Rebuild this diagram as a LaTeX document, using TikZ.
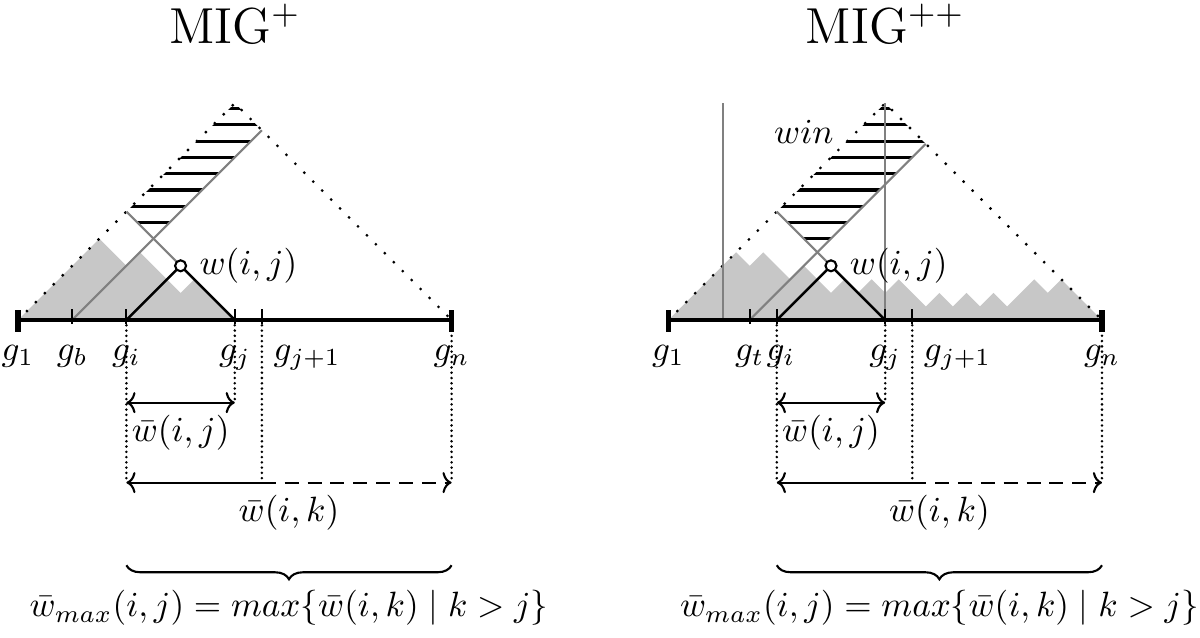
\documentclass[tikz,border=0pt]{standalone}
\usepackage{amsmath,amssymb}
\usetikzlibrary{positioning,decorations.pathreplacing,arrows.meta}
\tikzset{
  axis/.style={line width=1.2pt},
  endtick/.style={line width=1.5pt},
  tick/.style={line width=0.6pt},
  mount/.style={fill=black!22},
  grayline/.style={black!50,line width=0.6pt},
  hatchline/.style={line width=0.9pt},
  dotedge/.style={line width=0.9pt,line cap=round,dash pattern=on 0pt off 3.6pt},
  vdots/.style={line width=0.8pt,line cap=round,dash pattern=on 0pt off 1.5pt},
  gene/.style={anchor=base,inner sep=0pt},
  wnode/.style={circle,draw,fill=white,line width=0.6pt,inner sep=0pt,minimum size=0.11cm},
  span/.style={line width=0.6pt,>={To[length=2.6pt,width=6pt]}},
  spanbrace/.style={decorate,decoration={brace,mirror,amplitude=0.14cm},line width=0.6pt},
  title/.style={anchor=base,font=\Large}
}
\begin{document}
\begin{tikzpicture}[x=0.271cm,y=0.271cm]
\useasboundingbox (-0.18cm,-3.17cm) rectangle (11.82cm,3.2cm);

% MIG+
\coordinate (L1) at (0,0);
\coordinate (Lb) at (2,0);
\coordinate (Li) at (4,0);
\coordinate (Lj) at (8,0);
\coordinate (Lk) at (9,0);
\coordinate (Ln) at (16,0);
\coordinate (Ltop) at (8,8);
\coordinate (Lw) at (6,2);
\coordinate (Lwend) at (4,4);
\coordinate (Lbend) at (9,7);

\fill[mount] (L1) -- (3,3) -- (4,2) -- (4.5,2.5) -- (6,1) -- (6.5,1.5) -- (Lj) -- cycle;
\begin{scope}
  \clip (Lwend) -- (5,3) -- (Lbend) -- (Ltop) -- cycle;
  \foreach \k in {5,...,13}
    \draw[hatchline] (3,{0.6*\k}) -- (10,{0.6*\k});
\end{scope}
\draw[dotedge] (L1) -- (Ltop) -- (Ln);
\draw[grayline] (Lb) -- (Lbend);
\draw[grayline] (Lw) -- (Lwend);
\draw[line width=0.7pt] (Li) -- (Lw) -- (Lj);
\draw[axis] (L1) -- (Ln);
\foreach \t in {Lb,Li,Lj,Lk}
  \draw[tick] (\t) ++(0,-0.15) -- ++(0,0.55);
\foreach \t in {L1,Ln}
  \draw[endtick] (\t) ++(0,-0.44) -- ++(0,0.81);
\node[wnode] (Lwc) at (Lw) {};
\node[right=0pt of Lwc] (Lwlab) {$w(i,j)$};

\node[title] (Ltitle) at (8,10.22) {MIG$^{+}$};
\node[gene] (Lg1) at ([yshift=-0.4cm]L1) {$g_1$};
\node[gene] (Lgb) at ([yshift=-0.4cm]Lb) {$g_b$};
\node[gene] (Lgi) at ([yshift=-0.4cm]Li) {$g_i$};
\node[gene] (Lgj) at ([yshift=-0.4cm]Lj) {$g_j$};
\node[gene,anchor=base west] (Lgk) at ([xshift=0.11cm,yshift=-0.4cm]Lk) {$g_{j+1}$};
\node[gene] (Lgn) at ([yshift=-0.4cm]Ln) {$g_n$};

\coordinate (Lai) at (4,-6);
\coordinate (Lai2) at (4,-3.05);
\coordinate (Laj) at (8,-3.05);
\coordinate (Lak) at (9,-6);
\coordinate (Lan) at (16,-6);
\draw[vdots] (Li) -- (Lai);
\draw[vdots] (Lj) -- (Laj);
\draw[vdots] (Lk) -- (Lak);
\draw[vdots] (Ln) -- (Lan);
\draw[span,<->] (Lai2) -- (Laj) node[midway,below] (Lwij) {$\bar{w}(i,j)$};
\draw[span,<-] (Lai) -- (Lak);
\draw[span,->,dash pattern=on 4pt off 2.5pt] (Lak) -- (Lan);
\node[below] (Lwik) at (10,-6) {$\bar{w}(i,k)$};

\coordinate (Lbr1) at (4,-9.05);
\coordinate (Lbr2) at (16,-9.05);
\draw[spanbrace] (Lbr1) -- (Lbr2);
\node (Lmax) at (10,-10.63) {$\bar{w}_{max}(i,j) = max\{\bar{w}(i,k) \mid k > j\}$};

% MIG++
\begin{scope}[shift={(24,0)}]
\coordinate (R1) at (0,0);
\coordinate (Rv) at (2,0);
\coordinate (Rvtop) at (2,8);
\coordinate (Rt) at (3,0);
\coordinate (Ri) at (4,0);
\coordinate (Rj) at (8,0);
\coordinate (Rk) at (9,0);
\coordinate (Rn) at (16,0);
\coordinate (Rtop) at (8,8);
\coordinate (Rw) at (6,2);
\coordinate (Rwend) at (4,4);
\coordinate (Rtend) at (9.5,6.5);

\fill[mount] (R1) -- (2.5,2.5) -- (3,2) -- (3.5,2.5) -- (4.5,1.5) -- (5,2) -- (6,1)
  -- (6.5,1.5) -- (7,1) -- (7.5,1.5) -- (8,1) -- (8.5,1.5) -- (9.5,0.5) -- (10,1)
  -- (10.5,0.5) -- (11,1) -- (11.5,0.5) -- (12,1) -- (12.5,0.5) -- (13.5,1.5)
  -- (14,1) -- (14.5,1.5) -- (Rn) -- cycle;
\begin{scope}
  \clip (Rwend) -- (5.5,2.5) -- (Rtend) -- (Rtop) -- cycle;
  \foreach \k in {5,...,13}
    \draw[hatchline] (3,{0.6*\k}) -- (10,{0.6*\k});
\end{scope}
\draw[dotedge] (R1) -- (Rtop) -- (Rn);
\draw[grayline] (Rv) -- (Rvtop);
\draw[grayline] (Rj) -- (Rtop);
\draw[grayline] (Rt) -- (Rtend);
\draw[grayline] (Rw) -- (Rwend);
\draw[line width=0.7pt] (Ri) -- (Rw) -- (Rj);
\draw[axis] (R1) -- (Rn);
\foreach \t in {Rt,Ri,Rj,Rk}
  \draw[tick] (\t) ++(0,-0.15) -- ++(0,0.55);
\foreach \t in {R1,Rn}
  \draw[endtick] (\t) ++(0,-0.44) -- ++(0,0.81);
\node[wnode] (Rwc) at (Rw) {};
\node[right=0pt of Rwc] (Rwlab) {$w(i,j)$};
\node (Rwin) at (5,6.95) {$win$};

\node[title] (Rtitle) at (8,10.22) {MIG$^{++}$};
\node[gene] (Rg1) at ([yshift=-0.4cm]R1) {$g_1$};
\node[gene] (Rgt) at ([yshift=-0.4cm]Rt) {$g_t$};
\node[gene] (Rgi) at ([xshift=0.04cm,yshift=-0.4cm]Ri) {$g_i$};
\node[gene] (Rgj) at ([yshift=-0.4cm]Rj) {$g_j$};
\node[gene,anchor=base west] (Rgk) at ([xshift=0.11cm,yshift=-0.4cm]Rk) {$g_{j+1}$};
\node[gene] (Rgn) at ([yshift=-0.4cm]Rn) {$g_n$};

\coordinate (Rai) at (4,-6);
\coordinate (Rai2) at (4,-3.05);
\coordinate (Raj) at (8,-3.05);
\coordinate (Rak) at (9,-6);
\coordinate (Ran) at (16,-6);
\draw[vdots] (Ri) -- (Rai);
\draw[vdots] (Rj) -- (Raj);
\draw[vdots] (Rk) -- (Rak);
\draw[vdots] (Rn) -- (Ran);
\draw[span,<->] (Rai2) -- (Raj) node[midway,below] (Rwij) {$\bar{w}(i,j)$};
\draw[span,<-] (Rai) -- (Rak);
\draw[span,->,dash pattern=on 4pt off 2.5pt] (Rak) -- (Ran);
\node[below] (Rwik) at (10,-6) {$\bar{w}(i,k)$};

\coordinate (Rbr1) at (4,-9.05);
\coordinate (Rbr2) at (16,-9.05);
\draw[spanbrace] (Rbr1) -- (Rbr2);
\node (Rmax) at (10,-10.63) {$\bar{w}_{max}(i,j) = max\{\bar{w}(i,k) \mid k > j\}$};
\end{scope}
\end{tikzpicture}
\end{document}
